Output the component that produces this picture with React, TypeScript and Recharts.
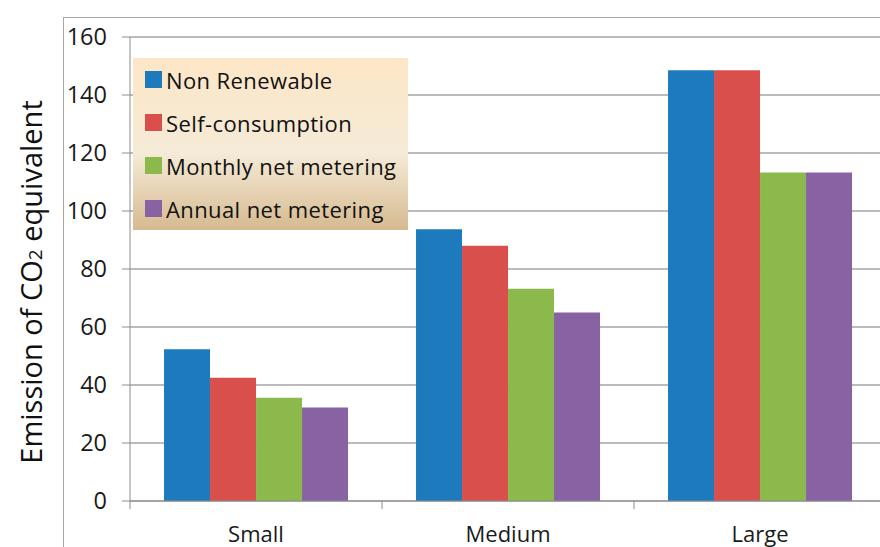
import { BarChart, Bar, XAxis, YAxis, CartesianGrid } from "recharts";

const categories = ["Small", "Medium", "Large"];
const nonRenewable = [52.3, 93.7, 148.5];
const selfConsumption = [42.5, 88, 148.5];
const monthlyNet = [35.6, 73.2, 113.3];
const annualNet = [32.2, 65, 113.3];
const yTicks = [0, 20, 40, 60, 80, 100, 120, 140, 160];

const SERIES = [
  { key: "nonRenewable", name: "Non Renewable", color: "#1d7bbd" },
  { key: "selfConsumption", name: "Self-consumption", color: "#d94f4c" },
  { key: "monthlyNet", name: "Monthly net metering", color: "#8cb94b" },
  { key: "annualNet", name: "Annual net metering", color: "#8763a3" },
];

const data = categories.map((c, i) => ({
  category: c,
  nonRenewable: nonRenewable[i],
  selfConsumption: selfConsumption[i],
  monthlyNet: monthlyNet[i],
  annualNet: annualNet[i],
}));

const FONT = "'Open Sans', sans-serif";
const AXIS = "#8c8c8c";
const PLOT_BOTTOM = 501;

function CategoryTick(props: any) {
  const { x, payload, index } = props;
  const half = payload?.offset || 126;
  return (
    <g>
      <line x1={x - half} x2={x - half} y1={PLOT_BOTTOM} y2={PLOT_BOTTOM + 8} stroke={AXIS} />
      {index === categories.length - 1 && (
        <line x1={x + half} x2={x + half} y1={PLOT_BOTTOM} y2={PLOT_BOTTOM + 8} stroke={AXIS} />
      )}
      <text x={x} y={PLOT_BOTTOM + 41} textAnchor="middle" fontSize={22} fill="#1a1a1a" fontFamily={FONT}>
        {payload.value}
      </text>
    </g>
  );
}

function LegendBox() {
  return (
    <div
      style={{
        position: "absolute",
        left: 133,
        top: 58,
        width: 275,
        height: 172,
        boxSizing: "border-box",
        padding: "0 0 0 12px",
        background: "linear-gradient(#fde6c6, #f5ebd8 55%, #d6ba90)",
        fontFamily: FONT,
        fontSize: 22,
        letterSpacing: 0.4,
        color: "#111",
      }}
    >
      {SERIES.map((s) => (
        <div key={s.key} style={{ display: "flex", alignItems: "center", height: 43 }}>
          <span style={{ width: 17, height: 17, background: s.color, marginRight: 4, display: "inline-block" }} />
          <span>{s.name}</span>
        </div>
      ))}
    </div>
  );
}

export default function App() {
  return (
    <div style={{ position: "fixed", left: 0, top: 0, width: 880, height: 547, overflow: "hidden", background: "#fff" }}>
      <div
        style={{
          position: "absolute",
          left: 63,
          top: 17,
          width: 900,
          height: 600,
          borderLeft: "1.5px solid #a6a6a6",
          borderTop: "1.5px solid #a6a6a6",
        }}
      />
      <div
        style={{
          position: "absolute",
          left: 30,
          top: 282,
          transform: "translate(-50%, -50%) rotate(-90deg)",
          whiteSpace: "nowrap",
          fontFamily: FONT,
          fontSize: 29,
          color: "#111",
        }}
      >
        Emission of CO<span style={{ fontSize: 19 }}>2</span> equivalent
      </div>
      <div style={{ position: "absolute", left: 0, top: 0 }}>
        <BarChart
          width={900}
          height={547}
          data={data}
          margin={{ top: 37, right: 14, left: 70, bottom: 0 }}
          barCategoryGap="13.5%"
          barGap={0}
        >
          <CartesianGrid vertical={false} stroke="#a6a6a6" strokeWidth={1.3} />
          <XAxis
            dataKey="category"
            height={46}
            stroke={AXIS}
            tickLine={false}
            tick={<CategoryTick />}
            interval={0}
          />
          <YAxis
            domain={[0, 160]}
            ticks={yTicks}
            width={60}
            stroke={AXIS}
            tickSize={8}
            tickMargin={15}
            tick={{ fontSize: 23.5, fill: "#1a1a1a", fontFamily: FONT }}
          />
          {SERIES.map((s) => (
            <Bar key={s.key} dataKey={s.key} name={s.name} fill={s.color} isAnimationActive={false} />
          ))}
        </BarChart>
      </div>
      <LegendBox />
    </div>
  );
}
